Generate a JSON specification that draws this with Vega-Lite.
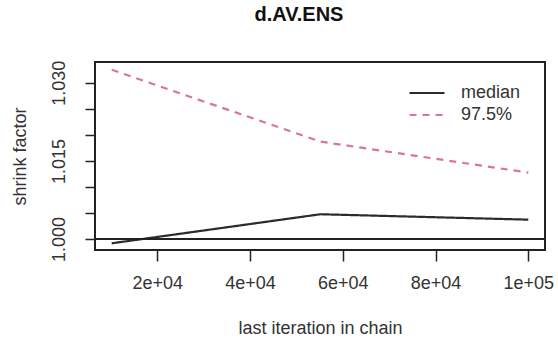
{
  "$schema": "https://vega.github.io/schema/vega-lite/v6.json",
  "width": 450,
  "height": 188,
  "autosize": "none",
  "padding": {"left": 95, "top": 62, "right": 13, "bottom": 92},
  "background": "white",
  "title": {
    "text": "d.AV.ENS",
    "font": "Liberation Sans",
    "fontSize": 20,
    "fontWeight": "bold",
    "color": "#111111",
    "anchor": "middle",
    "dx": -21,
    "offset": 35
  },
  "config": {
    "view": {"stroke": "#222222", "strokeWidth": 2},
    "axis": {
      "labelFont": "Liberation Sans",
      "titleFont": "Liberation Sans",
      "labelFontSize": 18,
      "titleFontSize": 18,
      "labelColor": "#333333",
      "titleColor": "#333333",
      "titleFontWeight": "normal",
      "tickColor": "#222222",
      "tickWidth": 1.5,
      "tickSize": 11,
      "domain": false,
      "grid": false
    }
  },
  "data": {
    "values": [
      {"series": "median", "iter": 10200, "value": 0.99917},
      {"series": "median", "iter": 55200, "value": 1.00475},
      {"series": "median", "iter": 100000, "value": 1.00371},
      {"series": "97.5%", "iter": 10200, "value": 1.0325},
      {"series": "97.5%", "iter": 55200, "value": 1.01871},
      {"series": "97.5%", "iter": 100000, "value": 1.01275}
    ]
  },
  "layer": [
    {
      "mark": {"type": "line", "strokeWidth": 2.2},
      "encoding": {
        "x": {
          "field": "iter",
          "type": "quantitative",
          "scale": {"domain": [6600, 103600], "nice": false, "zero": false},
          "axis": {
            "values": [20000, 40000, 60000, 80000, 100000],
            "labelExpr": "replace(format(datum.value, '.0e'), 'e+', 'e+0')",
            "labelOverlap": false,
            "labelPadding": 13,
            "labelBaseline": "top",
            "title": "last iteration in chain",
            "titleX": 225,
            "titleY": 78,
            "titleBaseline": "middle",
            "titleAlign": "center"
          }
        },
        "y": {
          "field": "value",
          "type": "quantitative",
          "scale": {"domain": [0.99788, 1.034], "nice": false, "zero": false},
          "axis": {
            "values": [1.0, 1.005, 1.01, 1.015, 1.02, 1.025, 1.03],
            "labelExpr": "(abs(datum.value - 1.015) < 0.0001 || datum.value < 1.0001 || datum.value > 1.0299) ? format(datum.value, '.3f') : ''",
            "labelOverlap": false,
            "labelAngle": -90,
            "labelAlign": "center",
            "labelBaseline": "alphabetic",
            "labelPadding": 21,
            "tickSize": 10,
            "title": "shrink factor",
            "titleAngle": -90,
            "titleX": -75,
            "titleY": 94,
            "titleAlign": "center",
            "titleBaseline": "middle"
          }
        },
        "color": {
          "field": "series",
          "type": "nominal",
          "sort": ["median", "97.5%"],
          "scale": {"domain": ["median", "97.5%"], "range": ["#2b2b2b", "#d87890"]},
          "legend": {
            "title": null,
            "orient": "none",
            "legendX": 322,
            "legendY": 21,
            "padding": 0,
            "symbolType": "M-2,0H2",
            "symbolSize": 306,
            "symbolStrokeWidth": 2.2,
            "rowPadding": 3,
            "labelOffset": 24,
            "labelFont": "Liberation Sans",
            "labelFontSize": 18,
            "labelColor": "#333333"
          }
        },
        "strokeDash": {
          "field": "series",
          "type": "nominal",
          "sort": ["median", "97.5%"],
          "scale": {"domain": ["median", "97.5%"], "range": [[1, 0], [7, 6]]},
          "legend": {
            "title": null,
            "orient": "none",
            "legendX": 322,
            "legendY": 21,
            "padding": 0,
            "symbolType": "M-2,0H2",
            "symbolSize": 306,
            "symbolStrokeWidth": 2.2,
            "rowPadding": 3,
            "labelOffset": 24,
            "labelFont": "Liberation Sans",
            "labelFontSize": 18,
            "labelColor": "#333333"
          }
        }
      }
    },
    {
      "mark": {"type": "rule", "color": "#222222", "strokeWidth": 1.8},
      "encoding": {
        "y": {
          "datum": 1,
          "type": "quantitative",
          "axis": {
            "values": [1.0, 1.005, 1.01, 1.015, 1.02, 1.025, 1.03],
            "labelExpr": "(abs(datum.value - 1.015) < 0.0001 || datum.value < 1.0001 || datum.value > 1.0299) ? format(datum.value, '.3f') : ''",
            "labelOverlap": false,
            "labelAngle": -90,
            "labelAlign": "center",
            "labelBaseline": "alphabetic",
            "labelPadding": 21,
            "tickSize": 10,
            "title": "shrink factor",
            "titleAngle": -90,
            "titleX": -75,
            "titleY": 94,
            "titleAlign": "center",
            "titleBaseline": "middle"
          }
        }
      }
    }
  ]
}
